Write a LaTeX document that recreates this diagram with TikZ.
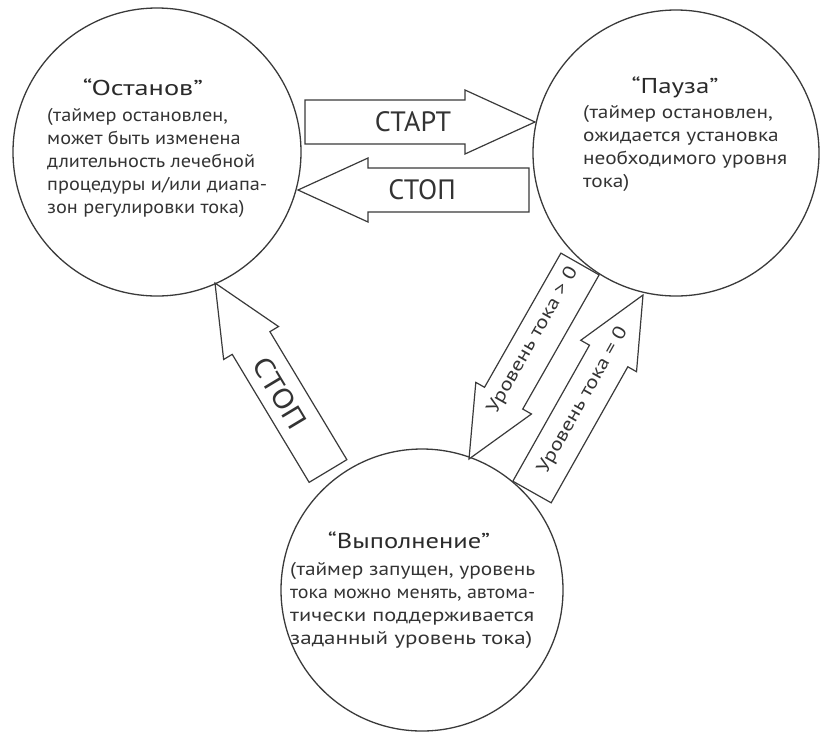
\documentclass[tikz,border=0pt]{standalone}
\usepackage{fontspec}
\usepackage{graphicx}
\setmainfont{PT Sans}
\usetikzlibrary{calc}
\definecolor{ln}{HTML}{3A3A3A}
\definecolor{tx}{HTML}{333333}
\definecolor{tt}{HTML}{2A2A2A}
\tikzset{
 state/.style={circle, draw=ln, line width=1.3pt, inner sep=0pt, outer sep=0pt},
 bigarrow/.style={draw=ln, line width=1.2pt, line join=miter, fill=white},
 title/.style={text=tt, font=\fontsize{21.5}{25}\selectfont, inner sep=0pt, anchor=base},
 body/.style={text=tx, font=\fontsize{18.5}{23}\selectfont, inner sep=0pt, anchor=base west},
 biglabel/.style={text=tx, font=\fontsize{28}{30}\selectfont, inner sep=0pt},
 diaglabel/.style={text=tx, font=\fontsize{18.5}{20}\selectfont, inner sep=0pt},
}
\newcommand{\wfit}[2]{\resizebox{#1}{\height}{#2}}
\newcommand{\blockarrow}[3]{%
  \coordinate (#1-b) at ($(#3)!70pt!(#2)$);
  \draw[bigarrow] ($(#2)!22pt!90:(#3)$) -- ($(#1-b)!22pt!90:(#3)$) -- ($(#1-b)!32pt!90:(#3)$) -- (#3) -- ($(#1-b)!32pt!-90:(#3)$) -- ($(#1-b)!22pt!-90:(#3)$) -- ($(#2)!22pt!-90:(#3)$) -- cycle;
}
\begin{document}
\begin{tikzpicture}[x=1pt,y=-1pt]
\useasboundingbox (0,0) rectangle (821,732);
% states
\node[state, minimum size=288pt] (halt) at (157,152) {};
\node[state, minimum size=286pt] (pause) at (676,153) {};
\node[state, minimum size=282pt] (run) at (422,590) {};
% arrow ends
\coordinate (startT) at (305,122);
\coordinate (startP) at (535,122);
\coordinate (stopT) at (529,190);
\coordinate (stopP) at (298,190);
\coordinate (stop2T) at (328,471);
\coordinate (stop2P) at (215,283);
\coordinate (gtT) at (580,264);
\coordinate (gtP) at (469,459);
\coordinate (eqT) at (532,492);
\coordinate (eqP) at (643,295);
\blockarrow{start}{startT}{startP}
\blockarrow{stop}{stopT}{stopP}
\blockarrow{stoptwo}{stop2T}{stop2P}
\blockarrow{gt}{gtT}{gtP}
\blockarrow{eq}{eqT}{eqP}
% arrow labels
\node[biglabel] (lstart) at (413,122) {СТАРТ};
\node[biglabel] (lstop) at (422,190) {СТОП};
\node[biglabel, rotate=-59] (lstop2) at (280,393) {\wfit{78pt}{СТОП}};
\node[diaglabel, rotate=60.4] (lgt) at (533,340) {\wfit{165pt}{Уровень тока > 0}};
\node[diaglabel, rotate=60.6] (leq) at (583,400) {\wfit{165pt}{Уровень тока = 0}};
% state texts
\node[title] (thalt) at (143,95) {\wfit{120pt}{“Останов”}};
\node[body] (bhalt) at (47,121) {\wfit{220pt}{\vtop{\hbox{(таймер остановлен,}\hbox{может быть изменена}\hbox{длительность лечебной}\hbox{процедуры и/или диапа-}\hbox{зон регулировки тока)}}}};
\node[title] (tpause) at (675,93.5) {\wfit{87pt}{“Пауза”}};
\node[body] (bpause) at (583,118.5) {\wfit{204pt}{\vtop{\hbox{(таймер остановлен,}\hbox{ожидается установка}\hbox{необходимого уровня}\hbox{тока)}}}};
\node[title] (trun) at (409,548) {\wfit{162pt}{“Выполнение”}};
\node[body] (brun) at (290,575) {\vtop{\hbox{\wfit{245pt}{(таймер запущен, уровень}}\hbox{\wfit{245pt}{тока можно менять, автома-}}\hbox{\wfit{244pt}{тически поддерживается}}\hbox{\wfit{242pt}{заданный уровень тока)}}}};
\end{tikzpicture}
\end{document}
